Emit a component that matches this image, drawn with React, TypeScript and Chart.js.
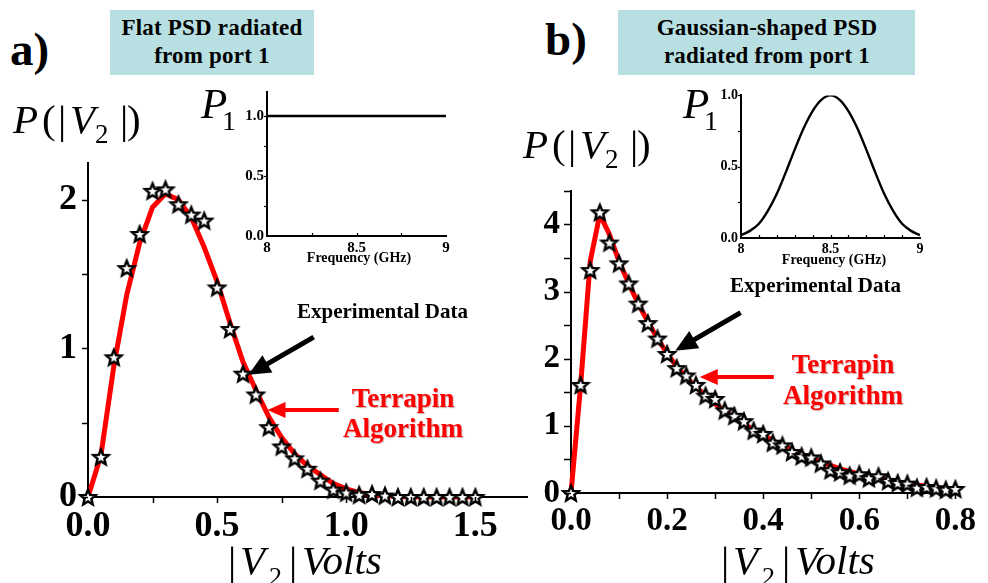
import React, { useEffect, useRef } from "react";
import { Chart, registerables } from "chart.js";

Chart.register(...registerables);

const SERIF = '"Liberation Serif", "Times New Roman", serif';

// ---------- panel a) flat PSD ----------
const flatStarV = [0, 0.05, 0.1, 0.15, 0.2, 0.25, 0.3, 0.35, 0.4, 0.45, 0.5, 0.55, 0.6, 0.65, 0.7, 0.75, 0.8, 0.85, 0.9, 0.95, 1.0, 1.05, 1.1, 1.15, 1.2, 1.25, 1.3, 1.35, 1.4, 1.45, 1.5];
const flatStarP = [0, 0.27, 0.94, 1.54, 1.77, 2.06, 2.07, 1.97, 1.9, 1.86, 1.41, 1.13, 0.83, 0.69, 0.47, 0.34, 0.26, 0.19, 0.11, 0.05, 0.03, 0.015, 0.02, 0.01, 0, 0, 0, 0, 0, 0, 0];
const flatFitV = [0, 0.05, 0.1, 0.15, 0.2, 0.25, 0.3, 0.35, 0.4, 0.45, 0.5, 0.55, 0.6, 0.65, 0.7, 0.75, 0.8, 0.85, 0.9, 0.95, 1.0, 1.05, 1.1, 1.15, 1.2, 1.25, 1.3, 1.35, 1.4, 1.45, 1.5];
const flatFitP = [0, 0.28, 0.88, 1.36, 1.71, 1.95, 2.04, 2.0, 1.88, 1.68, 1.45, 1.17, 0.91, 0.72, 0.54, 0.4, 0.29, 0.21, 0.15, 0.09, 0.055, 0.03, 0.015, 0.008, 0.003, 0, 0, 0, 0, 0, 0];
const flatXTickMarks = [0.25, 0.5, 0.75, 1.0, 1.25, 1.5];
const flatYTickMarks = [0, 0.5, 1, 1.5, 2];

// inset a)
const flatInsetF = [8, 9];
const flatInsetP = [1, 1];
const flatInsetXMarks = [8.25, 8.5, 8.75];
const flatInsetYMarks = [0.25, 0.5, 0.75, 1.0];

// ---------- panel b) gaussian PSD ----------
const gaussStarV = [0, 0.02, 0.04, 0.06, 0.08, 0.1, 0.12, 0.14, 0.16, 0.18, 0.2, 0.22, 0.24, 0.26, 0.28, 0.3, 0.32, 0.34, 0.36, 0.38, 0.4, 0.42, 0.44, 0.46, 0.48, 0.5, 0.52, 0.54, 0.56, 0.58, 0.6, 0.62, 0.64, 0.66, 0.68, 0.7, 0.72, 0.74, 0.76, 0.78, 0.8];
const gaussStarP = [0, 1.61, 3.32, 4.18, 3.73, 3.42, 3.12, 2.82, 2.53, 2.3, 2.07, 1.86, 1.75, 1.61, 1.45, 1.4, 1.23, 1.15, 1.07, 0.93, 0.88, 0.75, 0.71, 0.61, 0.55, 0.53, 0.44, 0.34, 0.31, 0.26, 0.28, 0.22, 0.25, 0.18, 0.15, 0.14, 0.08, 0.09, 0.07, 0.05, 0.06];
const gaussFitV = [0, 0.02, 0.04, 0.06, 0.08, 0.1, 0.12, 0.14, 0.16, 0.18, 0.2, 0.22, 0.24, 0.26, 0.28, 0.3, 0.32, 0.34, 0.36, 0.38, 0.4, 0.42, 0.44, 0.46, 0.48, 0.5, 0.52, 0.54, 0.56, 0.58, 0.6, 0.62, 0.64, 0.66, 0.68, 0.7, 0.72, 0.74, 0.76, 0.78, 0.8];
const gaussFitP = [0, 1.6, 3.45, 4.15, 3.85, 3.45, 3.12, 2.82, 2.55, 2.3, 2.08, 1.88, 1.72, 1.58, 1.45, 1.33, 1.22, 1.12, 1.03, 0.94, 0.86, 0.78, 0.71, 0.64, 0.58, 0.52, 0.46, 0.41, 0.36, 0.32, 0.28, 0.25, 0.22, 0.19, 0.16, 0.14, 0.12, 0.1, 0.08, 0.07, 0.06];
const gaussXTickMarks = [0.1, 0.2, 0.3, 0.4, 0.5, 0.6, 0.7, 0.8];
const gaussYTickMarks = [0, 0.5, 1, 1.5, 2, 2.5, 3, 3.5, 4, 4.5];

// inset b)
const gaussInsetF = [8.0, 8.05, 8.1, 8.15, 8.2, 8.25, 8.3, 8.35, 8.4, 8.45, 8.5, 8.55, 8.6, 8.65, 8.7, 8.75, 8.8, 8.85, 8.9, 8.95, 9.0];
const gaussInsetP = [0.02, 0.05, 0.1, 0.19, 0.31, 0.46, 0.62, 0.77, 0.89, 0.97, 1.0, 0.97, 0.89, 0.77, 0.62, 0.46, 0.31, 0.19, 0.1, 0.05, 0.02];
const gaussInsetXMarks = [8.1, 8.2, 8.3, 8.4, 8.5, 8.6, 8.7, 8.8, 8.9];
const gaussInsetYMarks = [0.25, 0.5, 0.75, 1.0];

const pts = (xs: number[], ys: number[]) => xs.map((x, i) => ({ x, y: ys[i] }));

function makeStar(): HTMLCanvasElement {
  const c = document.createElement("canvas");
  c.width = 22;
  c.height = 22;
  const g = c.getContext("2d")!;
  g.beginPath();
  for (let i = 0; i < 10; i++) {
    const r = i % 2 === 0 ? 8 : 3.6;
    const a = -Math.PI / 2 + (i * Math.PI) / 5;
    g.lineTo(11 + r * Math.cos(a), 11.8 + r * Math.sin(a));
  }
  g.closePath();
  g.fillStyle = "#fff";
  g.fill();
  g.lineWidth = 2.5;
  g.strokeStyle = "#000";
  g.lineJoin = "miter";
  g.stroke();
  return c;
}

const decoPlugin = {
  id: "deco",
  afterDatasetsDraw(chart: any, _a: any, opts: any) {
    const ctx = chart.ctx;
    const xs = chart.scales.x;
    const ys = chart.scales.y;
    const area = chart.chartArea;
    ctx.save();
    (opts.ticks || []).forEach((t: any) => {
      ctx.strokeStyle = "#000";
      ctx.lineWidth = t.w || 1.5;
      t.values.forEach((v: number) => {
        ctx.beginPath();
        if (t.axis === "x") {
          const px = Math.round(xs.getPixelForValue(v)) + 0.5;
          ctx.moveTo(px, area.bottom);
          ctx.lineTo(px, area.bottom + t.len);
        } else {
          const py = Math.round(ys.getPixelForValue(v)) + 0.5;
          ctx.moveTo(area.left, py);
          ctx.lineTo(area.left - t.len, py);
        }
        ctx.stroke();
      });
    });
    (opts.arrows || []).forEach((a: any) => {
      const x1 = xs.getPixelForValue(a.from[0]);
      const y1 = ys.getPixelForValue(a.from[1]);
      const x2 = xs.getPixelForValue(a.to[0]);
      const y2 = ys.getPixelForValue(a.to[1]);
      const dx = x2 - x1;
      const dy = y2 - y1;
      const len = Math.hypot(dx, dy);
      const ux = dx / len;
      const uy = dy / len;
      const bx = x2 - ux * a.head;
      const by = y2 - uy * a.head;
      ctx.strokeStyle = a.color;
      ctx.fillStyle = a.color;
      ctx.lineWidth = a.width;
      ctx.beginPath();
      ctx.moveTo(x1, y1);
      ctx.lineTo(bx + ux * 2, by + uy * 2);
      ctx.stroke();
      ctx.beginPath();
      ctx.moveTo(x2, y2);
      ctx.lineTo(bx - uy * a.half, by + ux * a.half);
      ctx.lineTo(bx + uy * a.half, by - ux * a.half);
      ctx.closePath();
      ctx.fill();
    });
    ctx.restore();
  },
};

function scale(o: {
  min: number;
  max: number;
  step: number;
  size: number;
  digits: number;
  pad: number;
  fit: number;
  isX: boolean;
  bw: number;
  intLabels?: boolean;
}) {
  return {
    type: "linear",
    min: o.min,
    max: o.max,
    border: { display: true, color: "#000", width: o.bw },
    grid: { display: false, drawTicks: false },
    ticks: {
      stepSize: o.step,
      includeBounds: false,
      autoSkip: false,
      maxRotation: 0,
      minRotation: 0,
      color: "#000",
      padding: o.pad,
      font: { family: SERIF, weight: "bold", size: o.size },
      callback: (v: number) =>
        o.intLabels && Number.isInteger(v) ? String(v) : Number(v).toFixed(o.digits),
    },
    afterFit: (s: any) => {
      if (o.isX) s.height = o.fit;
      else s.width = o.fit;
    },
  };
}

function baseOptions(padTop: number, padRight: number, xs: any, ys: any, deco: any) {
  return {
    responsive: false,
    animation: false,
    events: [],
    layout: { padding: { top: padTop, right: padRight, left: 0, bottom: 0 } },
    plugins: { legend: { display: false }, tooltip: { enabled: false }, deco },
    scales: { x: xs, y: ys },
  };
}

function cfgFlatMain(star: HTMLCanvasElement): any {
  return {
    type: "scatter",
    data: {
      datasets: [
        { data: pts(flatStarV, flatStarP), pointStyle: star, pointRadius: 8, showLine: false, clip: false },
        {
          data: pts(flatFitV, flatFitP),
          showLine: true,
          borderColor: "#ff0000",
          borderWidth: 5,
          pointRadius: 0,
          fill: false,
          clip: false,
        },
      ],
    },
    options: baseOptions(
      13,
      13,
      scale({ min: 0, max: 1.7, step: 0.5, size: 36, digits: 1, pad: 8, fit: 53, isX: true, bw: 2 }),
      scale({ min: 0, max: 2.25, step: 1, size: 36, digits: 0, pad: 11, fit: 68, isX: false, bw: 2 }),
      {
        ticks: [
          { axis: "x", values: flatXTickMarks, len: 6 },
          { axis: "y", values: flatYTickMarks, len: 6 },
        ],
        arrows: [
          { from: [0.874, 1.076], to: [0.621, 0.822], color: "#000", width: 5, head: 22, half: 10 },
          { from: [0.971, 0.586], to: [0.695, 0.586], color: "#ff0000", width: 4, head: 18, half: 8 },
        ],
      }
    ),
    plugins: [decoPlugin],
  };
}

function cfgGaussMain(star: HTMLCanvasElement): any {
  return {
    type: "scatter",
    data: {
      datasets: [
        { data: pts(gaussStarV, gaussStarP), pointStyle: star, pointRadius: 8, showLine: false, clip: false },
        {
          data: pts(gaussFitV, gaussFitP),
          showLine: true,
          borderColor: "#ff0000",
          borderWidth: 5,
          pointRadius: 0,
          fill: false,
          clip: false,
        },
      ],
    },
    options: baseOptions(
      15,
      20,
      scale({ min: 0, max: 0.8, step: 0.2, size: 33, digits: 1, pad: 9, fit: 57, isX: true, bw: 2 }),
      scale({ min: 0, max: 4.5, step: 1, size: 33, digits: 0, pad: 11, fit: 66, isX: false, bw: 2 }),
      {
        ticks: [
          { axis: "x", values: gaussXTickMarks, len: 6 },
          { axis: "y", values: gaussYTickMarks, len: 7 },
        ],
        arrows: [
          { from: [0.353, 2.687], to: [0.217, 2.12], color: "#000", width: 5, head: 22, half: 10 },
          { from: [0.422, 1.726], to: [0.268, 1.726], color: "#ff0000", width: 4, head: 18, half: 8 },
        ],
      }
    ),
    plugins: [decoPlugin],
  };
}

function cfgInset(
  f: number[],
  p: number[],
  yMax: number,
  xMarks: number[],
  yMarks: number[],
  fitY: number,
  fitX: number,
  padTop: number,
  padRight: number,
  size: number
): any {
  return {
    type: "scatter",
    data: {
      datasets: [
        {
          data: pts(f, p),
          showLine: true,
          borderColor: "#000",
          borderWidth: 2.4,
          pointRadius: 0,
          cubicInterpolationMode: "monotone",
          fill: false,
        },
      ],
    },
    options: baseOptions(
      padTop,
      padRight,
      scale({ min: 8, max: 9, step: 0.5, size, digits: 1, pad: 3, fit: fitX, isX: true, bw: 2, intLabels: true }),
      scale({ min: 0, max: yMax, step: 0.5, size, digits: 1, pad: 3, fit: fitY, isX: false, bw: 2 }),
      {
        ticks: [
          { axis: "x", values: xMarks, len: -3, w: 1.2 },
          { axis: "y", values: yMarks, len: 3, w: 1.2 },
        ],
      }
    ),
    plugins: [decoPlugin],
  };
}

function Txt(props: {
  x?: number;
  cx?: number;
  b: number;
  size: number;
  italic?: boolean;
  bold?: boolean;
  color?: string;
  ls?: number;
  shadow?: string;
  children: React.ReactNode;
}) {
  const { x, cx, b, size, italic, bold, color, ls, shadow, children } = props;
  const style: React.CSSProperties = {
    position: "absolute",
    top: b - 0.8375 * size,
    fontFamily: SERIF,
    fontSize: size,
    lineHeight: `${size}px`,
    fontStyle: italic ? "italic" : "normal",
    fontWeight: bold ? "bold" : "normal",
    color: color || "#000",
    whiteSpace: "nowrap",
    letterSpacing: ls,
    textShadow: shadow,
  };
  if (cx !== undefined) {
    style.left = cx;
    style.transform = "translateX(-50%)";
  } else {
    style.left = x;
  }
  return <div style={style}>{children}</div>;
}

function YTitle({ dx, dy }: { dx: number; dy: number }) {
  const b = 133 + dy;
  return (
    <>
      <Txt x={13 + dx} b={b} size={41} italic>P</Txt>
      <Txt x={42 + dx} b={b} size={41}>(</Txt>
      <Txt x={58 + dx} b={b} size={41}>|</Txt>
      <Txt x={70 + dx} b={b} size={41} italic>V</Txt>
      <Txt x={95 + dx} b={b + 11} size={27}>2</Txt>
      <Txt x={120 + dx} b={b} size={41}>|</Txt>
      <Txt x={127 + dx} b={b} size={41}>)</Txt>
    </>
  );
}

function XTitle({ dx }: { dx: number }) {
  const b = 574;
  return (
    <>
      <Txt x={228 + dx} b={b} size={41}>|</Txt>
      <Txt x={240 + dx} b={b} size={41} italic>V</Txt>
      <Txt x={269 + dx} b={b + 12} size={26}>2</Txt>
      <Txt x={289 + dx} b={b} size={41}>|</Txt>
      <Txt x={302 + dx} b={b} size={41} italic>Volts</Txt>
    </>
  );
}

function P1({ x }: { x: number }) {
  return (
    <>
      <Txt x={x} b={118} size={43} italic>P</Txt>
      <Txt x={x + 21} b={130} size={28}>1</Txt>
    </>
  );
}

const boxBg = "#b8e0e2";

export default function App() {
  const rA = useRef<HTMLCanvasElement>(null);
  const rAi = useRef<HTMLCanvasElement>(null);
  const rB = useRef<HTMLCanvasElement>(null);
  const rBi = useRef<HTMLCanvasElement>(null);

  useEffect(() => {
    const star = makeStar();
    const charts = [
      new Chart(rA.current!, cfgFlatMain(star)),
      new Chart(rB.current!, cfgGaussMain(star)),
      new Chart(rAi.current!, cfgInset(flatInsetF, flatInsetP, 1.2, flatInsetXMarks, flatInsetYMarks, 47, 29, 10, 14, 15)),
      new Chart(rBi.current!, cfgInset(gaussInsetF, gaussInsetP, 1.0, gaussInsetXMarks, gaussInsetYMarks, 51, 26, 10, 15, 14)),
    ];
    return () => charts.forEach((c) => c.destroy());
  }, []);

  const cv = (left: number, top: number, w: number, h: number): React.CSSProperties => ({
    position: "absolute",
    left,
    top,
    width: w,
    height: h,
  });

  const redShadow = "1px 1px 1px rgba(120,0,0,0.35)";

  return (
    <div
      style={{
        position: "absolute",
        left: 0,
        top: 0,
        width: 988,
        height: 583,
        overflow: "hidden",
        background: "#fff",
      }}
    >
      <div style={{ position: "absolute", left: 110, top: 10, width: 204, height: 65, background: boxBg }} />
      <div style={{ position: "absolute", left: 618, top: 10, width: 297, height: 65, background: boxBg }} />

      <canvas ref={rA} width={520} height={420} style={cv(20, 130, 520, 420)} />
      <canvas ref={rB} width={480} height={390} style={cv(505, 160, 480, 390)} />
      <canvas ref={rAi} width={240} height={185} style={cv(220, 80, 240, 185)} />
      <canvas ref={rBi} width={245} height={180} style={cv(690, 84, 245, 180)} />

      <Txt x={10} b={65} size={47} bold>a)</Txt>
      <Txt x={545} b={55} size={47} bold>b)</Txt>

      <Txt cx={212} b={35} size={23} bold ls={0.2}>Flat PSD radiated</Txt>
      <Txt cx={212} b={63} size={23} bold ls={0.2}>from port 1</Txt>
      <Txt cx={767} b={35} size={23} bold ls={0.2}>Gaussian-shaped PSD</Txt>
      <Txt cx={767} b={63} size={23} bold ls={0.2}>radiated from port 1</Txt>

      <YTitle dx={0} dy={0} />
      <YTitle dx={510} dy={25} />
      <XTitle dx={0} />
      <XTitle dx={493} />
      <P1 x={201} />
      <P1 x={683} />

      <Txt cx={359} b={263} size={14} bold>Frequency (GHz)</Txt>
      <Txt cx={834} b={265} size={14} bold>Frequency (GHz)</Txt>

      <Txt x={297} b={319} size={21} bold>Experimental Data</Txt>
      <Txt x={730} b={293} size={21} bold>Experimental Data</Txt>

      <Txt cx={403} b={408} size={27} bold color="#ff0000" shadow={redShadow}>Terrapin</Txt>
      <Txt cx={403} b={438} size={27} bold color="#ff0000" shadow={redShadow}>Algorithm</Txt>
      <Txt cx={843} b={374} size={27} bold color="#ff0000" shadow={redShadow}>Terrapin</Txt>
      <Txt cx={843} b={405} size={27} bold color="#ff0000" shadow={redShadow}>Algorithm</Txt>
    </div>
  );
}
